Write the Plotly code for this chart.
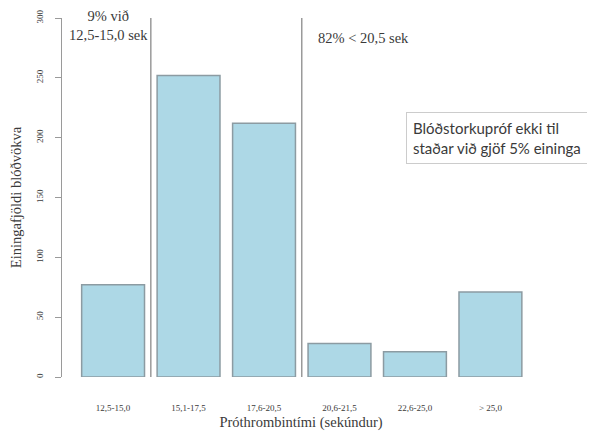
import plotly.graph_objects as go

categories = ["12,5-15,0", "15,1-17,5", "17,6-20,5", "20,6-21,5", "22,6-25,0", "> 25,0"]
counts = [77, 252, 212, 28, 21, 71]
y_ticks = [0, 50, 100, 150, 200, 250, 300]

serif = "Liberation Serif"
txt = "#3a3a3a"

fig = go.Figure()
fig.add_trace(go.Bar(
    x=categories, y=counts,
    marker=dict(color="#ADD8E6", line=dict(color="#8c9ba2", width=1.5)),
    showlegend=False,
))

# reference lines between groups
for xv in [0.5, 2.5]:
    fig.add_shape(type="line", xref="x", yref="y", x0=xv, x1=xv, y0=0, y1=300,
                  line=dict(color="#9a9a9a", width=1.5))

fig.add_annotation(xref="x", yref="y", x=-0.066, y=294, yanchor="middle",
                   text="9% við<br>12,5-15,0 sek", showarrow=False,
                   font=dict(family=serif, size=14.5, color=txt), align="center")
fig.add_annotation(xref="x", yref="y", x=2.69, y=283, xanchor="left",
                   text="82% < 20,5 sek", showarrow=False,
                   font=dict(family=serif, size=14.5, color=txt))
fig.add_annotation(xref="x", yref="y", x=3.878, y=221.5, xanchor="left", yanchor="top",
                   text="Blóðstorkupróf ekki til<br>staðar við gjöf 5% eininga",
                   showarrow=False, align="left",
                   bordercolor="#cccccc", borderwidth=1, borderpad=6, bgcolor="white",
                   font=dict(family="Lato", size=15, color=txt))

fig.update_layout(
    width=587, height=427,
    margin=dict(l=54, r=55, t=10, b=58),
    plot_bgcolor="white", paper_bgcolor="white",
    bargap=0.167,
    font=dict(family=serif, color=txt),
    xaxis=dict(
        type="category", range=[-0.677, 5.657], automargin=False,
        showline=False, showgrid=False, ticks="", zeroline=False,
        tickfont=dict(family=serif, size=9, color=txt),
        ticklabelstandoff=24,
        title=dict(text="Próthrombintími (sekúndur)", font=dict(family=serif, size=14.5, color=txt), standoff=4),
    ),
    yaxis=dict(
        range=[0, 300], tickvals=y_ticks, automargin=False,
        showline=True, linecolor="#9a9a9a", linewidth=1,
        ticks="outside", ticklen=6, tickcolor="#9a9a9a",
        showgrid=False, zeroline=False,
        tickangle=-90,
        tickfont=dict(family=serif, size=9, color=txt),
        ticklabelstandoff=8,
        title=dict(text="Einingafjöldi blóðvökva", font=dict(family=serif, size=14.5, color=txt), standoff=17),
    ),
)

fig.write_html("out.html")
